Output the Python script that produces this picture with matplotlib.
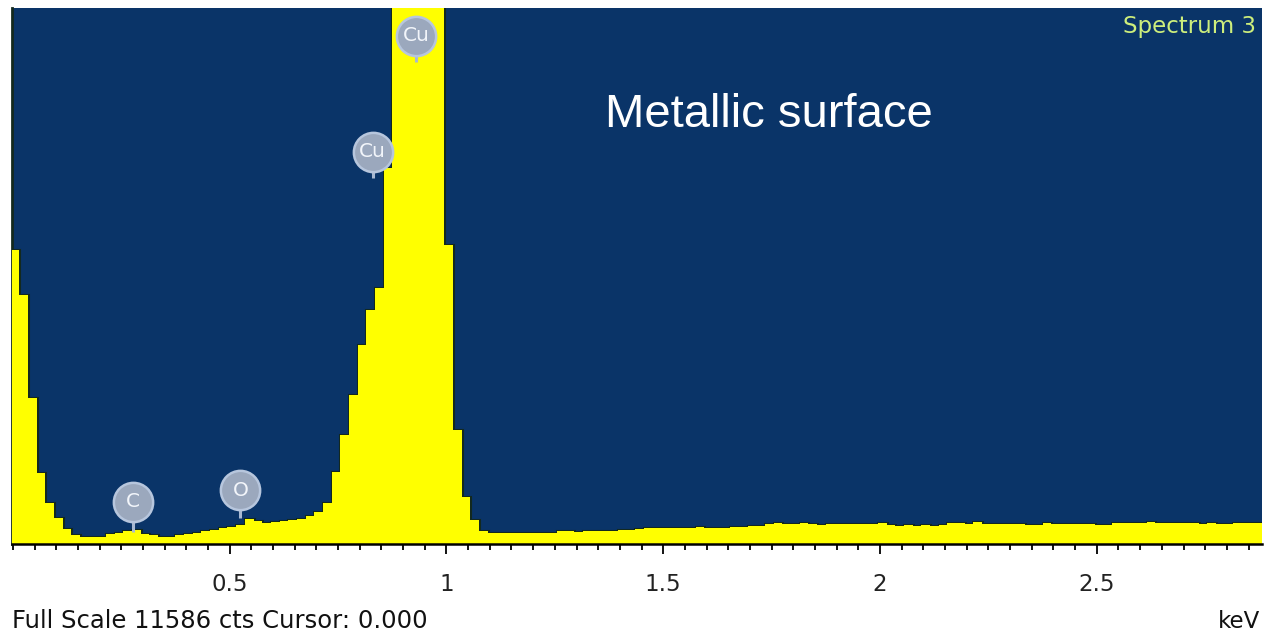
import numpy as np
import matplotlib
matplotlib.use("Agg")
import matplotlib.pyplot as plt
from matplotlib.ticker import MultipleLocator

# ---------------- data ----------------
channel_start_keV = -0.005
channel_width_keV = 0.02
counts = [
    6350, 5380, 3160, 1535, 886, 562, 324, 195, 151, 151,
    151, 216, 238, 281, 303, 216, 195, 151, 151, 195,
    216, 238, 281, 303, 346, 368, 411, 540, 497, 454,
    476, 497, 519, 540, 605, 692, 886, 1557, 2357, 3221,
    4302, 5059, 5535, 8129, 12800, 14500, 15500, 15800, 15000, 13000,
    6464, 2465, 1016, 519, 281, 238, 238, 238, 238, 238,
    238, 238, 238, 281, 281, 260, 281, 281, 281, 281,
    303, 303, 325, 346, 346, 346, 346, 346, 346, 368,
    346, 346, 346, 368, 368, 389, 389, 432, 454, 432,
    432, 454, 432, 411, 432, 432, 432, 432, 432, 432,
    454, 400, 389, 400, 389, 400, 389, 400, 454, 454,
    432, 476, 432, 432, 432, 432, 432, 411, 411, 454,
    432, 432, 432, 432, 432, 411, 411, 454, 454, 454,
    454, 476, 454, 454, 454, 454, 454, 432, 454, 432,
    432, 454, 454, 454, 454,
]
full_scale = 11586

peak_labels = ["Cu", "Cu", "C", "O"]
peak_energy = [0.93, 0.83, 0.277, 0.525]
peak_label_height = [10983, 8475, 908, 1167]
peak_stem_tip = [10421, 7913, 259, 562]

tick_values = [0.5, 1, 1.5, 2, 2.5]
tick_labels = ["0.5", "1", "1.5", "2", "2.5"]

# ---------------- figure ----------------
W, H = 1265, 633
fig = plt.figure(figsize=(W / 100, H / 100), dpi=100, facecolor="white")
ax = fig.add_axes([12 / W, (H - 544) / H, (1262 - 12) / W, (544 - 8) / H])
ax.set_facecolor("#0a3468")

edges = channel_start_keV + channel_width_keV * np.arange(len(counts) + 1)
ax.stairs(counts, edges, baseline=0, color="#13291e", linewidth=2.2, zorder=2)
ax.stairs(counts, edges, baseline=0, fill=True, color="#ffff00", zorder=3)

ax.set_xlim(-0.002, 2.881)
ax.set_ylim(0, full_scale)

# peak labels
for lab, e, h, tip in zip(peak_labels, peak_energy, peak_label_height, peak_stem_tip):
    ax.plot([e, e], [h, tip], color="#a9b9d2", linewidth=2.2, zorder=5,
            solid_capstyle="butt")
    ax.scatter([e], [h], s=800, color="#9ba8bd", edgecolors="#b7c6dd",
               linewidths=1.8, zorder=6)
    ax.text(e, h, lab, color="#f2f5fa", fontsize=14.5, ha="center", va="center",
            family="DejaVu Sans", zorder=7)

# axes styling
for s in ["top", "right"]:
    ax.spines[s].set_visible(False)
ax.spines["bottom"].set_color("black")
ax.spines["bottom"].set_linewidth(1.8)
ax.spines["left"].set_color("#13291e")
ax.spines["left"].set_linewidth(2)
ax.spines["bottom"].set_zorder(8)

ax.set_yticks([])
ax.set_xticks(tick_values)
ax.set_xticklabels(tick_labels)
ax.xaxis.set_minor_locator(MultipleLocator(0.05))
ax.tick_params(axis="x", which="major", direction="out", length=7, width=1.3,
               color="black", pad=14, labelsize=16.5, labelcolor="#222222")
ax.tick_params(axis="x", which="minor", direction="out", length=4, width=1.3,
               color="black")
for t in ax.get_xticklabels():
    t.set_family("DejaVu Sans")

fig.text(12 / W, (H - 628) / H, "Full Scale 11586 cts Cursor: 0.000",
         fontsize=17.5, color="#111111", ha="left", va="baseline", family="DejaVu Sans")
fig.text(1260 / W, (H - 628) / H, "keV", fontsize=16.5, color="#111111",
         ha="right", va="baseline", family="DejaVu Sans")
fig.text(1256 / W, (H - 33) / H, "Spectrum 3", fontsize=16.5, color="#cdee7c",
         ha="right", va="baseline", family="DejaVu Sans")
fig.text(605 / W, (H - 127) / H, "Metallic surface", fontsize=34, color="white",
         ha="left", va="baseline", family="Liberation Sans")

fig.savefig("out.png", dpi=100, facecolor="white")
